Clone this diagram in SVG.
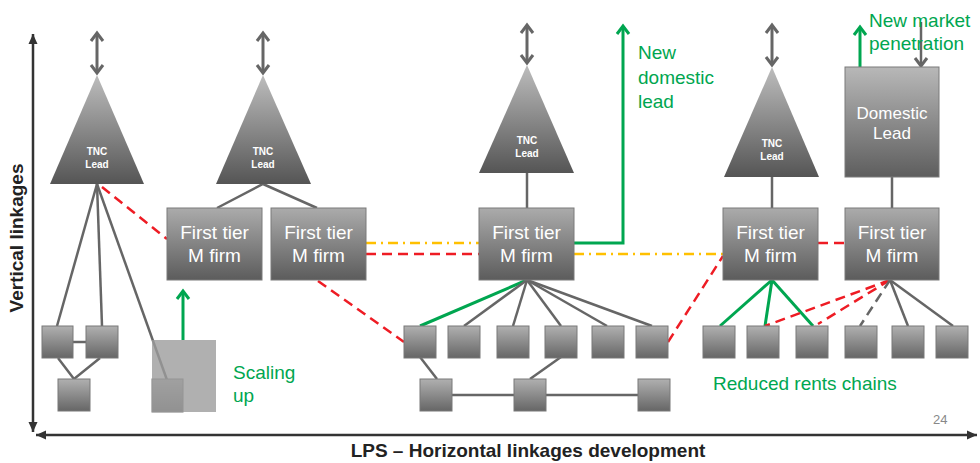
<svg xmlns="http://www.w3.org/2000/svg" width="980" height="463" viewBox="0 0 980 463">
<defs>
<linearGradient id="gBox" x1="0" y1="0" x2="0" y2="1"><stop offset="0" stop-color="#ababab"/><stop offset="1" stop-color="#5c5c5c"/></linearGradient>
<linearGradient id="gDom" x1="0" y1="0" x2="0" y2="1"><stop offset="0" stop-color="#b8b8b8"/><stop offset="1" stop-color="#5e5e5e"/></linearGradient>
<linearGradient id="gTri" x1="0" y1="0" x2="0" y2="1"><stop offset="0" stop-color="#bdbdbd"/><stop offset="1" stop-color="#555555"/></linearGradient>
<linearGradient id="gSm" x1="0" y1="0" x2="0" y2="1"><stop offset="0" stop-color="#b0b0b0"/><stop offset="1" stop-color="#666666"/></linearGradient>
<marker id="chevGray" markerUnits="userSpaceOnUse" markerWidth="16" markerHeight="16" viewBox="0 0 16 16" refX="11" refY="8" orient="auto-start-reverse"><path d="M3,2 L11,8 L3,14" fill="none" stroke="#666" stroke-width="3"/></marker>
<marker id="chevGreen" markerUnits="userSpaceOnUse" markerWidth="16" markerHeight="16" viewBox="0 0 16 16" refX="11" refY="8" orient="auto-start-reverse"><path d="M3,2 L11,8 L3,14" fill="none" stroke="#00a650" stroke-width="3"/></marker>
<marker id="axHead" markerUnits="userSpaceOnUse" markerWidth="12" markerHeight="12" viewBox="0 0 12 12" refX="10" refY="6" orient="auto-start-reverse"><path d="M0,1.5 L10,6 L0,10.5 Z" fill="#333"/></marker>
</defs>
<style>
.box{fill:url(#gBox);stroke:#7a7a7a;stroke-width:1}
.dom{fill:url(#gDom);stroke:#7a7a7a;stroke-width:1}
.tri{fill:url(#gTri)}
.sm{fill:url(#gSm);stroke:#787878;stroke-width:1}
.ln{stroke:#666;stroke-width:2.5;fill:none}
.dbl{stroke:#666;stroke-width:3;fill:none;marker-start:url(#chevGray);marker-end:url(#chevGray)}
.red{stroke:#ee1c24;stroke-width:2.5;stroke-dasharray:10 6;fill:none}
.gdash{stroke:#666;stroke-width:2.5;stroke-dasharray:10 6;fill:none}
.org{stroke:#ffc000;stroke-width:2.5;stroke-dasharray:10 5 2 5;fill:none}
.grn{stroke:#00a650;stroke-width:3;fill:none}
.axis{stroke:#333;stroke-width:2.5;fill:none;marker-start:url(#axHead);marker-end:url(#axHead)}
.bt{font-family:"Liberation Sans",Arial,sans-serif;font-size:19px;fill:#fff;text-anchor:middle}
.dt{font-family:"Liberation Sans",Arial,sans-serif;font-size:17px;fill:#fff;text-anchor:middle}
.tn{font-family:"Liberation Sans",Arial,sans-serif;font-size:10px;font-weight:bold;fill:#fff;text-anchor:middle}
.gt{font-family:"Liberation Sans",Arial,sans-serif;font-size:19px;fill:#00a650}
.ax{font-family:"Liberation Sans",Arial,sans-serif;font-size:19px;font-weight:bold;fill:#222;text-anchor:middle}
</style>
<rect width="980" height="463" fill="#fff"/>

<g id="axes">
<line class="axis" x1="33" y1="432" x2="33" y2="34"/>
<line class="axis" x1="36" y1="435" x2="977" y2="435"/>
<text class="ax" transform="translate(23,238) rotate(-90)">Vertical linkages</text>
<text class="ax" x="528" y="457">LPS – Horizontal linkages development</text>
<text x="933" y="424" font-family="Liberation Sans, Arial, sans-serif" font-size="13" fill="#888">24</text>
</g>

<g id="connectors">
<line class="dbl" x1="97" y1="33" x2="97" y2="73"/>
<line class="dbl" x1="263" y1="33" x2="263" y2="73"/>
<line class="dbl" x1="527" y1="25" x2="527" y2="63"/>
<line class="dbl" x1="772" y1="25" x2="772" y2="65"/>
<line class="ln" x1="97" y1="184" x2="57" y2="326"/>
<line class="ln" x1="97" y1="184" x2="102" y2="326"/>
<line class="ln" x1="97" y1="184" x2="167" y2="380"/>
<line class="ln" x1="73" y1="342" x2="86" y2="342"/>
<polyline class="ln" points="58,358 74,379 100,358"/>
<line class="red" x1="102" y1="187" x2="167" y2="239"/>
<polyline class="ln" points="217,208 263,184 317,208"/>
<line class="grn" x1="183" y1="340" x2="183" y2="291" marker-end="url(#chevGreen)"/>
<line class="org" x1="366" y1="243" x2="479" y2="243"/>
<line class="red" x1="366" y1="254" x2="479" y2="254"/>
<line class="red" x1="318" y1="281" x2="404" y2="342"/>
<line class="ln" x1="527" y1="173" x2="527" y2="208"/>
<polyline class="grn" points="574,243 623,243 623,26" marker-end="url(#chevGreen)"/>
<line class="grn" x1="527" y1="280" x2="420" y2="326"/>
<line class="ln" x1="527" y1="280" x2="464" y2="326"/>
<line class="ln" x1="527" y1="280" x2="513" y2="326"/>
<line class="ln" x1="527" y1="280" x2="561" y2="326"/>
<line class="ln" x1="527" y1="280" x2="607" y2="326"/>
<line class="ln" x1="527" y1="280" x2="652" y2="326"/>
<line class="ln" x1="420" y1="357" x2="437" y2="379"/>
<line class="ln" x1="561" y1="357" x2="530" y2="379"/>
<line class="ln" x1="452" y1="395" x2="514" y2="395"/>
<line class="ln" x1="546" y1="395" x2="638" y2="395"/>
<line class="org" x1="574" y1="254" x2="723" y2="254"/>
<line class="red" x1="668" y1="342" x2="723" y2="256"/>
<line class="ln" x1="772" y1="177" x2="772" y2="208"/>
<line class="ln" x1="892" y1="177" x2="892" y2="208"/>
<line class="red" x1="818" y1="243" x2="845" y2="243"/>
<line class="grn" x1="860" y1="67" x2="860" y2="27" marker-end="url(#chevGreen)"/>
<line class="ln" x1="921" y1="22" x2="921" y2="66" stroke-width="3" marker-end="url(#chevGray)"/>
<line class="grn" x1="772" y1="280" x2="720" y2="326"/>
<line class="grn" x1="772" y1="280" x2="765" y2="326"/>
<line class="grn" x1="772" y1="280" x2="813" y2="326"/>
<line class="red" x1="890" y1="280" x2="765" y2="326"/>
<line class="red" x1="890" y1="280" x2="818" y2="324"/>
<line class="gdash" x1="890" y1="280" x2="860" y2="326"/>
<line class="ln" x1="890" y1="280" x2="908" y2="326"/>
<line class="ln" x1="890" y1="280" x2="953" y2="326"/>
</g>

<g id="tnc1"><polygon class="tri" points="97,75 144,184 50,184"/><text class="tn" x="97" y="155">TNC</text><text class="tn" x="97" y="168">Lead</text></g>
<g id="tnc2"><polygon class="tri" points="263,75 311,184 216,184"/><text class="tn" x="263" y="155">TNC</text><text class="tn" x="263" y="168">Lead</text></g>
<g id="tnc3"><polygon class="tri" points="527,65 574,173 479,173"/><text class="tn" x="527" y="144">TNC</text><text class="tn" x="527" y="157">Lead</text></g>
<g id="tnc4"><polygon class="tri" points="772,67 819,177 724,177"/><text class="tn" x="772" y="147">TNC</text><text class="tn" x="772" y="160">Lead</text></g>
<g id="domestic-lead"><rect class="dom" x="845" y="67" width="94" height="110"/><text class="dt" x="892" y="119">Domestic</text><text class="dt" x="892" y="139">Lead</text></g>

<g id="firm1"><rect class="box" x="167" y="208" width="95" height="72"/><text class="bt" x="214.5" y="239">First tier</text><text class="bt" x="214.5" y="262">M firm</text></g>
<g id="firm2"><rect class="box" x="271" y="208" width="95" height="72"/><text class="bt" x="318.5" y="239">First tier</text><text class="bt" x="318.5" y="262">M firm</text></g>
<g id="firm3"><rect class="box" x="479" y="208" width="95" height="72"/><text class="bt" x="526.5" y="239">First tier</text><text class="bt" x="526.5" y="262">M firm</text></g>
<g id="firm4"><rect class="box" x="723" y="208" width="95" height="72"/><text class="bt" x="770.5" y="239">First tier</text><text class="bt" x="770.5" y="262">M firm</text></g>
<g id="firm5"><rect class="box" x="845" y="208" width="94" height="72"/><text class="bt" x="892" y="239">First tier</text><text class="bt" x="892" y="262">M firm</text></g>

<g id="left-small">
<rect class="sm" x="42" y="326" width="31" height="32"/>
<rect class="sm" x="86" y="326" width="32" height="32"/>
<rect class="sm" x="58" y="379" width="32" height="32"/>
</g>
<g id="scaling">
<rect class="sm" x="152" y="379" width="31" height="33"/>
<rect x="152" y="340" width="64" height="72" fill="#9c9c9c" fill-opacity="0.8"/>
<text class="gt" x="233" y="379">Scaling</text>
<text class="gt" x="233" y="402">up</text>
</g>
<g id="mid-small">
<rect class="sm" x="404" y="326" width="32" height="32"/>
<rect class="sm" x="448" y="326" width="32" height="32"/>
<rect class="sm" x="497" y="326" width="32" height="32"/>
<rect class="sm" x="545" y="326" width="32" height="32"/>
<rect class="sm" x="592" y="326" width="32" height="32"/>
<rect class="sm" x="636" y="326" width="32" height="32"/>
<rect class="sm" x="420" y="379" width="32" height="32"/>
<rect class="sm" x="514" y="379" width="32" height="32"/>
<rect class="sm" x="638" y="379" width="32" height="32"/>
</g>
<g id="right-small">
<rect class="sm" x="703" y="326" width="32" height="32"/>
<rect class="sm" x="747" y="326" width="32" height="32"/>
<rect class="sm" x="796" y="326" width="32" height="32"/>
<rect class="sm" x="845" y="326" width="32" height="32"/>
<rect class="sm" x="892" y="326" width="32" height="32"/>
<rect class="sm" x="936" y="326" width="32" height="32"/>
</g>
<g id="labels">
<text class="gt" x="638" y="59">New</text>
<text class="gt" x="638" y="84">domestic</text>
<text class="gt" x="638" y="108">lead</text>
<text class="gt" x="869" y="27">New market</text>
<text class="gt" x="869" y="50">penetration</text>
<text class="gt" x="713" y="390">Reduced rents chains</text>
</g>
</svg>
